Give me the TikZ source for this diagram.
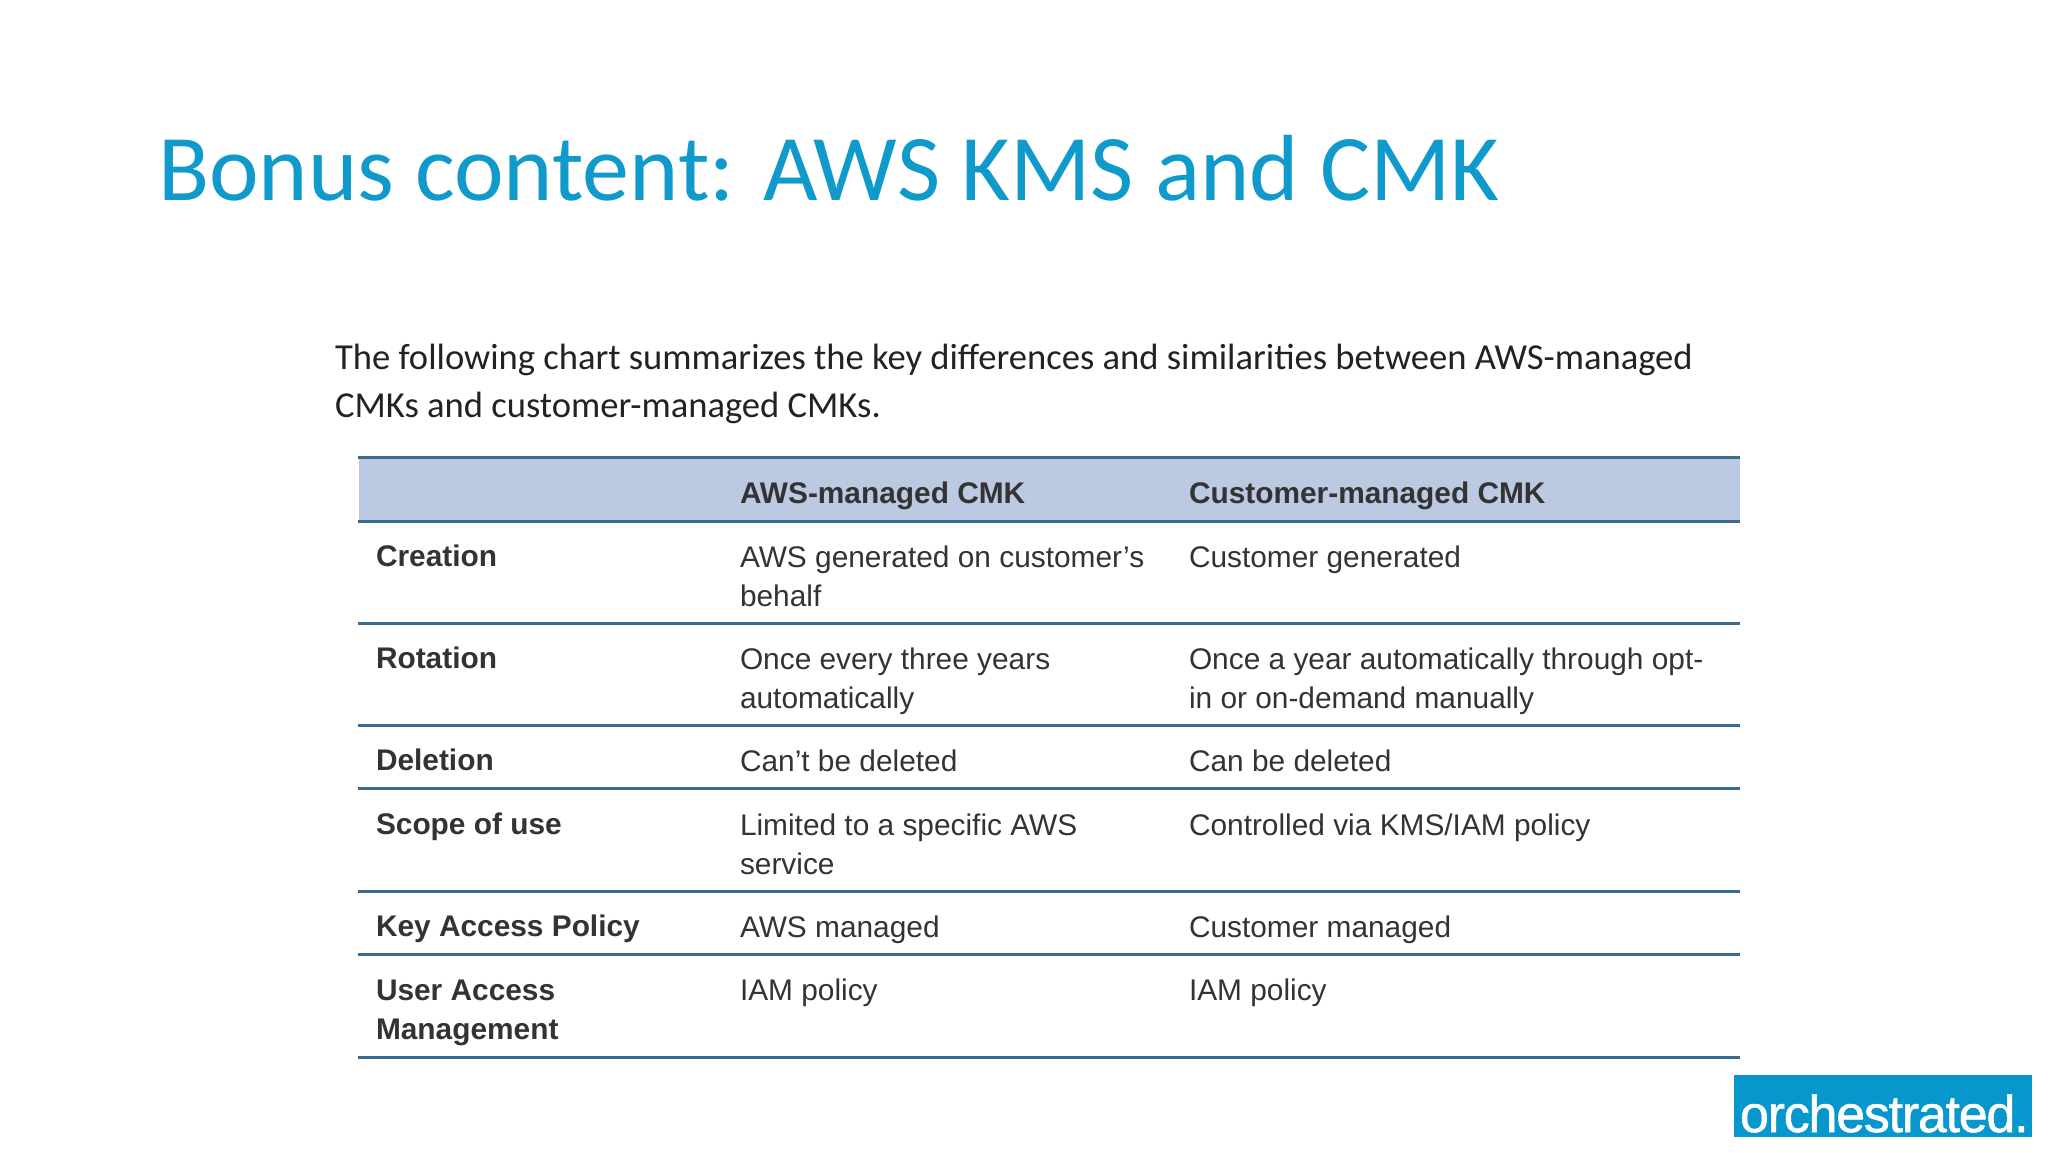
\documentclass[tikz,border=0pt]{standalone}
\usepackage{fontspec}
\setmainfont{Carlito}
\setsansfont{Liberation Sans}
\usetikzlibrary{positioning}
\definecolor{titleblue}{HTML}{0F9ACB}
\definecolor{logoblue}{HTML}{0897CC}
\definecolor{headfill}{HTML}{BBCAE2}
\definecolor{ruleblue}{HTML}{3A6A8E}
\definecolor{celltext}{HTML}{333333}
\definecolor{introtext}{HTML}{222222}
\newcommand{\celltab}[1]{\begin{tabular}[t]{@{}l@{}}#1\end{tabular}}
\begin{document}
\begin{tikzpicture}[x=1pt,y=-1pt]
        % Define styles for shapes
        \tikzstyle{plain} = [inner sep=0pt, outer sep=0pt, anchor=base west]
        \tikzstyle{title} = [plain, text=titleblue, font=\fontsize{94}{110}\selectfont]
        \tikzstyle{intro} = [plain, text=introtext, font=\fontsize{36.6}{48}\selectfont]
        \tikzstyle{cell} = [plain, text=celltext, font=\sffamily\fontsize{29.85}{39.5}\selectfont]
        \tikzstyle{head} = [cell, font=\sffamily\bfseries\fontsize{29.85}{39.5}\selectfont]
        \useasboundingbox (0,0) rectangle (2048,1152);
        % Header band and logo
        \fill[headfill] (359,457) rectangle (1740,521);
        \fill[logoblue] (1734,1075) rectangle (2032,1137);
        % Rules of the table
        \foreach \ypos in {457,521,623,725,788.5,891,954.5,1057}
            \draw[ruleblue, line width=3pt] (358,\ypos) -- (1740,\ypos);
        % Title and text above the table
        \node[title] (title) at (158,200) {Bonus content: AWS KMS and CMK};
        \node[intro] (intro1) at (335,369) {The following chart summarizes the key differences and similarities between AWS-managed};
        \node[intro] (intro2) at (335,417) {CMKs and customer-managed CMKs.};
        % Header row
        \node[head] (headaws) at (740,503) {AWS-managed CMK};
        \node[head] (headcust) at (1189,503) {Customer-managed CMK};
        % Row labels
        \node[head] (creation) at (376,566) {Creation};
        \node[head] (rotation) at (376,668) {Rotation};
        \node[head] (deletion) at (376,770) {Deletion};
        \node[head] (scope) at (376,834) {Scope of use};
        \node[head] (keypolicy) at (376,936) {Key Access Policy};
        \node[head] (useraccess) at (376,1000) {\celltab{User Access\\Management}};
        % AWS-managed column
        \node[cell] (creationaws) at (740,567) {\celltab{AWS generated on customer's\\behalf}};
        \node[cell] (rotationaws) at (740,669) {\celltab{Once every three years\\automatically}};
        \node[cell] (deletionaws) at (740,771) {Can't be deleted};
        \node[cell] (scopeaws) at (740,835) {\celltab{Limited to a specific AWS\\service}};
        \node[cell] (keyaws) at (740,937) {AWS managed};
        \node[cell] (useraws) at (740,1000) {IAM policy};
        % Customer-managed column
        \node[cell] (creationcust) at (1189,567) {Customer generated};
        \node[cell] (rotationcust) at (1189,669) {\celltab{Once a year automatically through opt-\\in or on-demand manually}};
        \node[cell] (deletioncust) at (1189,771) {Can be deleted};
        \node[cell] (scopecust) at (1189,835) {Controlled via KMS/IAM policy};
        \node[cell] (keycust) at (1189,937) {Customer managed};
        \node[cell] (usercust) at (1189,1000) {IAM policy};
        % Logo text
        \node[plain, text=white, font=\sffamily\fontsize{52}{52}\selectfont\addfontfeature{LetterSpace=-2.4,FakeBold=1}] (logo) at (1740,1132) {orchestrated.};
    \end{tikzpicture}
\end{document}
